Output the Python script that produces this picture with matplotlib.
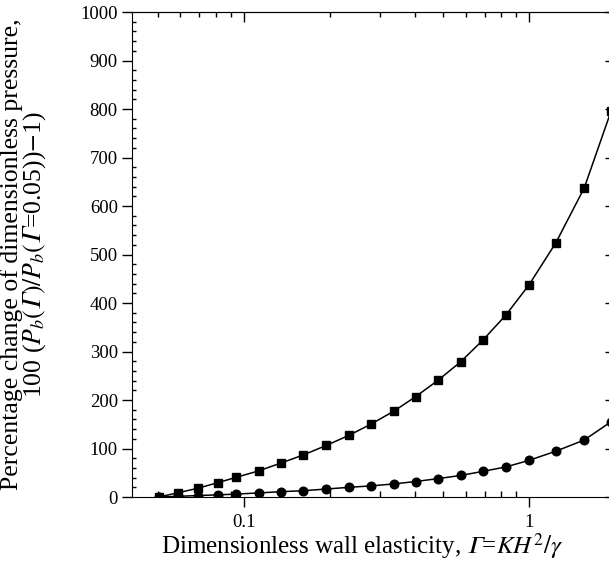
import matplotlib
matplotlib.use("Agg")
import matplotlib.pyplot as plt
from matplotlib.ticker import MultipleLocator, NullFormatter, NullLocator

plt.rcParams["font.family"] = ["Liberation Serif", "DejaVu Serif"]
plt.rcParams["mathtext.fontset"] = "stix"

# wall elasticity values (log axis)
gamma = [0.0504, 0.059, 0.069, 0.081, 0.094, 0.113, 0.135, 0.1615, 0.195, 0.2336,
         0.28, 0.336, 0.401, 0.481, 0.577, 0.691, 0.830, 1.0, 1.243, 1.563, 1.94]
# upper curve (squares)
change_sq = [0, 9, 18, 29.5, 40.5, 54, 70, 86.5, 106.5, 127,
             150.5, 177, 207, 241, 279, 324, 375, 437, 524, 637, 795]
# lower curve (circles)
change_ci = [0, 1.5, 3, 4.5, 6, 8.5, 11, 13, 16.5, 20,
             23, 27, 32, 38, 44.5, 53, 62, 75.5, 94.5, 117.5, 155]

xticks = [0.1, 1]
xticklabels = ["0.1", "1"]

G = "\U0001D6E4"  # italic capital gamma

fig = plt.figure(figsize=(6.09, 5.77), dpi=100)
ax = fig.add_axes([0.2163, 0.1386, 0.7837, 0.8405])

ax.plot(gamma, change_sq, color="black", lw=1.1, marker="s", ms=5.5)
ax.plot(gamma, change_ci, color="black", lw=1.1, marker="o", ms=6.2)

ax.set_xscale("log")
ax.set_xlim(0.0405, 1.91)
ax.set_ylim(0, 1000)

ax.set_xticks(xticks)
ax.set_xticklabels(xticklabels)
ax.xaxis.set_minor_formatter(NullFormatter())
ax.yaxis.set_major_locator(MultipleLocator(100))
ax.yaxis.set_minor_locator(MultipleLocator(20))

ax.tick_params(which="major", direction="out", length=7, width=1, labelsize=13.5, top=False, right=False)
ax.tick_params(axis="x", which="minor", direction="in", length=4.5, width=1, top=False)
ax.tick_params(axis="y", which="minor", direction="in", length=3, width=1, right=False)
ax.tick_params(axis="x", pad=5)
ax.tick_params(axis="y", pad=3)
ax.spines["right"].set_visible(False)

# top axis: inward ticks, no labels
top = ax.secondary_xaxis("top")
top.tick_params(which="major", direction="in", length=7, width=1)
top.tick_params(which="minor", direction="in", length=3.5, width=1)
top.xaxis.set_major_formatter(NullFormatter())
top.xaxis.set_minor_formatter(NullFormatter())

# right axis: major ticks only, inward
right = ax.secondary_yaxis("right")
right.yaxis.set_major_locator(MultipleLocator(100))
right.yaxis.set_minor_locator(NullLocator())
right.tick_params(which="major", direction="in", length=3, width=1)
right.yaxis.set_major_formatter(NullFormatter())
for s in right.spines.values():
    s.set_visible(False)

ax.set_xlabel("Dimensionless wall elasticity, $" + G + "$=$KH^2/\\gamma$", fontsize=18)
ax.xaxis.set_label_coords(0.4825, -0.07)
ax.set_ylabel("Percentage change of dimensionless pressure,\n"
              "100 ($P_b(" + G + ")/P_b(" + G + "$=0.05))$-$1)",
              fontsize=18.5, linespacing=0.9)
ax.yaxis.set_label_coords(-0.175, 0.5)

fig.savefig("out.png", dpi=100)
